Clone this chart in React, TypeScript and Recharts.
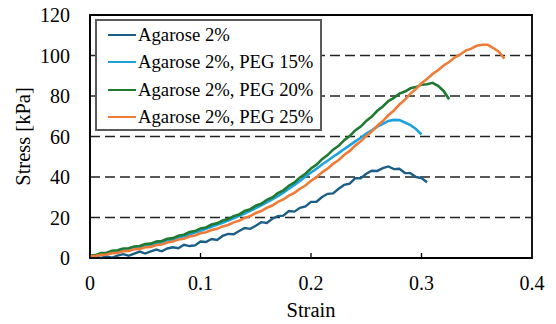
import { CartesianGrid, Legend, Line, LineChart, ReferenceArea, XAxis, YAxis } from "recharts";

const STRAIN = [
  0, 0.005, 0.01, 0.015, 0.02, 0.025, 0.03, 0.035, 0.04, 0.045,
  0.05, 0.055, 0.06, 0.065, 0.07, 0.075, 0.08, 0.085, 0.09, 0.095,
  0.1, 0.105, 0.11, 0.115, 0.12, 0.125, 0.13, 0.135, 0.14, 0.145,
  0.15, 0.155, 0.16, 0.165, 0.17, 0.175, 0.18, 0.185, 0.19, 0.195,
  0.2, 0.205, 0.21, 0.215, 0.22, 0.225, 0.23, 0.235, 0.24, 0.245,
  0.25, 0.255, 0.26, 0.265, 0.27, 0.275, 0.28, 0.285, 0.29, 0.295,
  0.3, 0.305, 0.31, 0.315, 0.32, 0.325, 0.33, 0.335, 0.34, 0.345,
  0.35, 0.355, 0.36, 0.365, 0.37, 0.375,
];

const AGAROSE_2 = [
  0.3, 0.5, 0.0, 0.8, 0.2, 1.2, 1.9, 1.1, 2.2, 3.2, 2.2, 3.3, 4.2, 3.3, 4.7, 5.3, 4.8, 6.5, 5.9, 6.2,
  8.1, 7.9, 9.4, 8.9, 10.9, 11.9, 11.7, 13.3, 14.8, 14.4, 15.9, 17.7, 17.3, 19.4, 20.7, 20.9, 23.2, 22.9, 24.8, 25.5,
  27.7, 27.8, 30.1, 31.7, 31.9, 34.2, 36.1, 36.7, 39.4, 39.4, 41.6, 43.1, 43.0, 44.4, 45.2, 43.9, 44.1, 42.0, 41.9, 40.0,
  39.5, 37.4,
];

const PEG_15 = [
  0.7, 1.2, 1.6, 2.2, 2.6, 3.2, 3.6, 4.2, 4.6, 5.3, 5.8, 6.5, 7.0, 7.8, 8.4, 9.2, 9.9, 10.8, 11.6, 12.6,
  13.5, 14.4, 15.4, 16.4, 17.4, 18.5, 19.6, 20.8, 22.0, 23.3, 24.6, 26.0, 27.5, 29.0, 30.6, 32.3, 34.2, 36.1, 38.1, 40.1,
  42.2, 44.1, 46.2, 48.0, 50.0, 51.8, 53.8, 55.6, 57.6, 59.4, 61.4, 63.0, 64.9, 66.2, 67.7, 68.2, 68.1, 66.9, 65.6, 63.7,
  61.0,
];

const PEG_20 = [
  1.2, 1.4, 2.4, 2.6, 3.6, 3.8, 4.7, 4.8, 5.7, 5.9, 6.9, 7.1, 8.1, 8.4, 9.5, 9.8, 11.0, 11.5, 12.8, 13.3,
  14.6, 15.1, 16.5, 17.1, 18.5, 19.2, 20.7, 21.5, 23.2, 24.1, 25.8, 26.8, 28.7, 29.9, 32.0, 33.4, 35.7, 37.3, 39.8, 41.6,
  44.2, 46.1, 48.8, 50.8, 53.5, 55.4, 58.2, 60.2, 63.0, 64.9, 67.7, 69.8, 72.7, 74.8, 77.5, 79.1, 81.2, 82.2, 83.8, 84.4,
  85.6, 85.8, 86.5, 85.0, 82.5, 78.4,
];

const PEG_25 = [
  1.0, 1.0, 1.6, 1.7, 2.4, 2.5, 3.3, 3.5, 4.3, 4.5, 5.3, 5.5, 6.4, 6.7, 7.7, 8.1, 9.1, 9.5, 10.6, 11.1,
  12.2, 12.7, 13.8, 14.4, 15.6, 16.3, 17.6, 18.4, 19.8, 20.7, 22.2, 23.2, 24.8, 25.9, 27.7, 28.9, 30.8, 32.2, 34.2, 35.8,
  38.1, 39.9, 42.3, 44.1, 46.5, 48.4, 50.9, 52.9, 55.5, 57.6, 60.3, 62.5, 65.3, 67.6, 70.5, 72.8, 75.8, 78.2, 81.2, 83.5,
  86.3, 88.4, 90.9, 92.7, 95.1, 96.8, 99.0, 100.5, 102.4, 103.4, 104.8, 105.3, 105.3, 103.7, 101.9, 98.4,
];

const X_TICKS = [0, 0.1, 0.2, 0.3, 0.4];
const Y_TICKS = [0, 20, 40, 60, 80, 100, 120];

const SERIES = [
  { name: "Agarose 2%", values: AGAROSE_2, color: "#1b5f88" },
  { name: "Agarose 2%, PEG 15%", values: PEG_15, color: "#1ea2de" },
  { name: "Agarose 2%, PEG 20%", values: PEG_20, color: "#1e7a30" },
  { name: "Agarose 2%, PEG 25%", values: PEG_25, color: "#ef7b38" },
];

const FONT = '"Liberation Serif"';
const X_TICK_GAP = 18;

const toPoints = (vals: number[]) => vals.map((v, i) => ({ strain: STRAIN[i], stress: v }));

function XTick({ x, y, payload }: { x?: number; y?: number; payload?: { value: number } }) {
  const v = payload?.value ?? 0;
  const axisY = (y ?? 0) - X_TICK_GAP;
  const inner = v > 0 && v < 0.4;
  return (
    <g>
      {inner && <line x1={x} x2={x} y1={axisY} y2={axisY - 5} stroke="#000" strokeWidth={1.3} />}
      <text x={x} y={y} dy="0.71em" textAnchor="middle" fill="#000" fontSize={20} fontFamily="Liberation Serif">
        {v === 0 ? "0" : String(v)}
      </text>
    </g>
  );
}

function LegendBox() {
  return (
    <div
      style={{
        width: 227,
        height: 112,
        boxSizing: "border-box",
        border: "2px solid #5a5a5a",
        background: "#fff",
        paddingLeft: 11,
      }}
    >
      {SERIES.map((s) => (
        <div key={s.name} style={{ display: "flex", alignItems: "center", height: 27.5 }}>
          <span style={{ width: 28, height: 2, background: s.color, marginRight: 2 }} />
          <span style={{ fontSize: 18.7, fontFamily: FONT, color: "#000", whiteSpace: "nowrap" }}>{s.name}</span>
        </div>
      ))}
    </div>
  );
}

export default function App() {
  return (
    <div style={{ width: 556, height: 324, background: "#fff", fontFamily: FONT }}>
      <style>{"body{margin:0}"}</style>
      <LineChart width={556} height={324} margin={{ top: 15, right: 24, left: 0, bottom: 0 }}>
        <CartesianGrid
          vertical={false}
          stroke="#222"
          strokeWidth={1.3}
          strokeDasharray="10 5"
          horizontalValues={[20, 40, 60, 80, 100]}
        />
        <XAxis
          type="number"
          dataKey="strain"
          domain={[0, 0.4]}
          ticks={X_TICKS}
          height={66}
          tickLine={false}
          tickSize={0}
          tickMargin={X_TICK_GAP}
          axisLine={{ stroke: "#000", strokeWidth: 1.5 }}
          tick={<XTick />}
          label={{
            value: "Strain",
            position: "insideBottom",
            offset: 7,
            fill: "#000",
            fontSize: 20.5,
            fontFamily: "Liberation Serif",
          }}
        />
        <YAxis
          type="number"
          domain={[0, 120]}
          ticks={Y_TICKS}
          width={90}
          tickLine={false}
          tickSize={0}
          tickMargin={20}
          axisLine={{ stroke: "#000", strokeWidth: 1.5 }}
          tick={{ fill: "#000", fontSize: 20, fontFamily: "Liberation Serif" }}
          label={{
            value: "Stress [kPa]",
            angle: -90,
            position: "insideLeft",
            offset: 23,
            fill: "#000",
            fontSize: 20.5,
            fontFamily: "Liberation Serif",
            style: { textAnchor: "middle" },
          }}
        />
        <ReferenceArea x1={0} x2={0.4} y1={0} y2={120} fill="none" stroke="#000" strokeWidth={1.8} ifOverflow="visible" />
        {SERIES.map((s, i) => (
          <Line
            key={s.name}
            data={toPoints(s.values)}
            dataKey="stress"
            name={s.name}
            type="linear"
            stroke={s.color}
            strokeWidth={i === 0 ? 2.4 : 2.6}
            dot={false}
            isAnimationActive={false}
          />
        ))}
        <Legend
          layout="vertical"
          align="center"
          verticalAlign="middle"
          content={<LegendBox />}
          wrapperStyle={{ left: 95, top: 19, width: 227, height: 112 }}
        />
      </LineChart>
    </div>
  );
}
